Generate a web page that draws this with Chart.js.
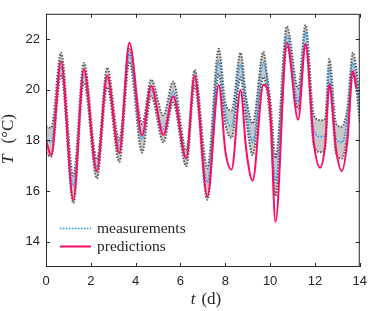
<!DOCTYPE html>
<html>
<head>
<meta charset="utf-8">
<script src="https://cdn.jsdelivr.net/npm/chart.js@4"></script>
<style>
  html, body { margin: 0; padding: 0; background: #fff; }
  canvas { display: block; }
</style>
</head>
<body>
<canvas id="chart" width="374" height="311"></canvas>
<script>
// time axis (days) and the four traces
const days = [0, 0.23, 0.67, 1.22, 1.69, 2.27, 2.73, 3.27, 3.72, 4.29, 4.69, 5.24, 5.67, 6.26, 6.63, 7.2,
    7.71, 8.0, 8.28, 8.68, 8.93, 9.22, 9.7, 9.87, 10.02, 10.24, 10.75, 11.25, 11.58, 11.95, 12.23, 12.45,
    12.64, 12.95, 13.2, 13.45, 13.69, 13.85, 14];
const upperBound = [18.55, 18.5, 21.46, 16.6, 21.06, 17.25, 20.87, 18.0, 21.65, 18.65, 20.4, 18.99, 20.33, 17.6, 20.78, 16.9,
    21.62, 19.5, 19.18, 21.46, 19.7, 18.67, 21.5, 20.5, 19.5, 17.3, 22.5, 20.05, 22.56, 19.0, 18.8, 18.85,
    21.21, 18.65, 18.54, 19.3, 21.46, 20.8, 19.4];
const measurements = [18.0, 17.95, 20.9, 16.2, 20.6, 16.95, 20.45, 17.7, 21.4, 18.05, 20.0, 18.45, 19.93, 17.3, 20.45, 16.35,
    21.12, 19.1, 18.55, 20.99, 19.3, 17.92, 21.06, 20.37, 19.0, 16.4, 22.12, 19.52, 22.25, 18.4, 18.15, 18.17,
    20.81, 18.05, 17.92, 18.9, 21.06, 20.4, 19.05];
const predictions = [18.0, 17.42, 21.12, 15.66, 20.81, 16.79, 20.55, 17.5, 21.87, 18.2, 20.15, 18.22, 19.74, 17.29, 20.55, 15.78,
    20.19, 17.6, 16.85, 19.99, 17.67, 16.41, 20.2, 20.05, 18.9, 14.78, 21.87, 18.82, 21.81, 17.9, 16.92, 17.8,
    20.18, 17.6, 16.79, 18.0, 20.74, 20.05, null];
const lowerBound = [17.5, 17.35, 20.6, 15.53, 20.3, 16.5, 20.1, 17.15, 21.1, 17.52, 19.74, 17.92, 19.49, 16.98, 20.15, 15.66,
    20.62, 18.65, 18.1, 20.49, 18.8, 17.42, 20.5, 19.9, 18.5, 15.8, 21.7, 19.25, 21.8, 17.8, 17.54, 17.65,
    20.3, 17.45, 17.29, 18.3, 20.6, 20.0, 18.7];

const xTicks = [0, 2, 4, 6, 8, 10, 12, 14];
const yTicks = [14, 16, 18, 20, 22];

const COLORS = {
    meas: '#1e96f0',
    pred: '#ff0a66',
    bound: '#585858',
    band: '#c9c9c9',
    axis: '#262626'
};
const SANS = '"Liberation Sans", Arial, sans-serif';
const SERIF = '"Liberation Serif", "Times New Roman", serif';

const toPoints = arr => days.map((t, i) => ({ x: t, y: arr[i] }));

// box, inward ticks, axis titles and the legend
const decorations = {
    id: 'decorations',
    afterDraw(chart) {
        const { ctx, chartArea: a, scales: { x, y } } = chart;
        ctx.save();
        ctx.strokeStyle = COLORS.axis;
        ctx.lineWidth = 1;
        ctx.strokeRect(a.left + 0.5, a.top + 0.5, a.right - a.left - 1, a.bottom - a.top - 1);
        ctx.beginPath();
        xTicks.forEach(v => {
            const px = Math.round(x.getPixelForValue(v)) + 0.5;
            ctx.moveTo(px, a.bottom); ctx.lineTo(px, a.bottom - 4);
            ctx.moveTo(px, a.top); ctx.lineTo(px, a.top + 4);
        });
        yTicks.forEach(v => {
            const py = Math.round(y.getPixelForValue(v)) + 0.5;
            ctx.moveTo(a.left, py); ctx.lineTo(a.left + 4, py);
            ctx.moveTo(a.right, py); ctx.lineTo(a.right - 4, py);
        });
        ctx.stroke();

        // axis titles: italic variable, a gap, upright unit
        ctx.fillStyle = COLORS.axis;
        ctx.textBaseline = 'middle';
        ctx.textAlign = 'left';
        const drawTitle = (cx, cy, rot, italic, rest, gap) => {
            ctx.save();
            ctx.translate(cx, cy);
            ctx.rotate(rot);
            ctx.font = 'italic 17px ' + SERIF;
            const w1 = ctx.measureText(italic).width;
            ctx.font = '17px ' + SERIF;
            const w2 = ctx.measureText(rest).width;
            const sx = -(w1 + gap + w2) / 2;
            ctx.font = 'italic 17px ' + SERIF;
            ctx.fillText(italic, sx, 0);
            ctx.font = '17px ' + SERIF;
            ctx.fillText(rest, sx + w1 + gap, 0);
            ctx.restore();
        };
        drawTitle(206, 300, 0, 't', '(d)', 6);
        drawTitle(9, 139, -Math.PI / 2, 'T', '(°C)', 11);

        // legend
        const items = [
            { label: 'measurements', color: COLORS.meas, dash: [1.5, 1.5], width: 1.6, yPos: 228.5 },
            { label: 'predictions', color: COLORS.pred, dash: [], width: 2, yPos: 246.5 }
        ];
        items.forEach(it => {
            ctx.beginPath();
            ctx.strokeStyle = it.color;
            ctx.lineWidth = it.width;
            ctx.setLineDash(it.dash);
            ctx.moveTo(60, it.yPos);
            ctx.lineTo(91, it.yPos);
            ctx.stroke();
            ctx.setLineDash([]);
            ctx.font = '15.5px ' + SERIF;
            ctx.fillStyle = COLORS.axis;
            ctx.fillText(it.label, 97, it.yPos);
        });
        ctx.restore();
    }
};

new Chart(document.getElementById('chart'), {
    type: 'line',
    data: {
        datasets: [
            {
                label: 'predictions',
                data: toPoints(predictions),
                borderColor: COLORS.pred,
                borderWidth: 2,
                fill: false
            },
            {
                label: 'measurements',
                data: toPoints(measurements),
                borderColor: COLORS.meas,
                borderWidth: 1.6,
                borderDash: [1.5, 1.5],
                fill: false
            },
            {
                label: 'upper',
                data: toPoints(upperBound),
                borderColor: COLORS.bound,
                borderWidth: 2,
                borderDash: [1.5, 1.5],
                fill: false
            },
            {
                label: 'lower',
                data: toPoints(lowerBound),
                borderColor: COLORS.bound,
                borderWidth: 2,
                borderDash: [1.5, 1.5],
                backgroundColor: COLORS.band,
                fill: '-1'
            }
        ]
    },
    options: {
        responsive: false,
        animation: false,
        devicePixelRatio: 1,
        layout: { padding: { top: 2, right: 8, left: 0, bottom: 0 } },
        elements: {
            point: { radius: 0 },
            line: { cubicInterpolationMode: 'monotone' }
        },
        scales: {
            x: {
                type: 'linear',
                min: 0,
                max: 14,
                afterBuildTicks: s => { s.ticks = xTicks.map(v => ({ value: v })); },
                afterFit: s => { s.height = 44; },
                grid: { display: false, drawTicks: false },
                border: { display: false },
                ticks: { color: COLORS.axis, font: { family: SANS, size: 13 }, padding: 7, maxRotation: 0 }
            },
            y: {
                type: 'linear',
                min: 13,
                max: 23,
                afterBuildTicks: s => { s.ticks = yTicks.map(v => ({ value: v })); },
                afterFit: s => { s.width = 46; },
                grid: { display: false, drawTicks: false },
                border: { display: false },
                ticks: { color: COLORS.axis, font: { family: SANS, size: 13 }, padding: 6 }
            }
        },
        plugins: {
            legend: { display: false },
            tooltip: { enabled: false }
        }
    },
    plugins: [decorations]
});
</script>
</body>
</html>
